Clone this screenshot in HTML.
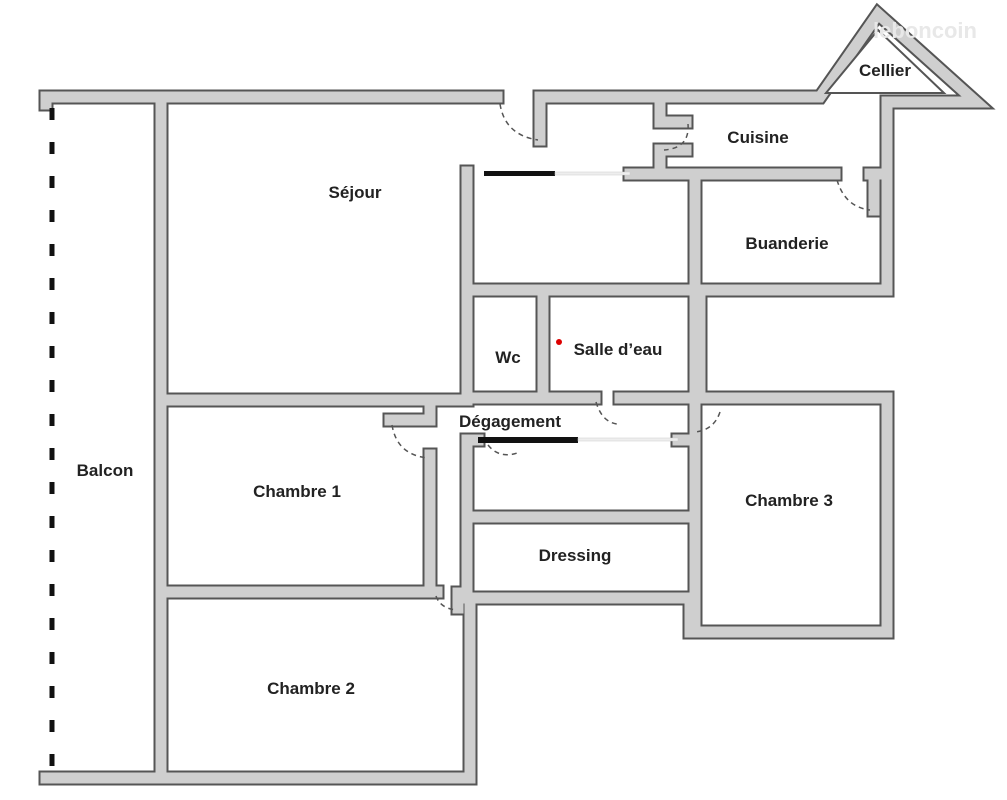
<!DOCTYPE html>
<html><head><meta charset="utf-8"><style>
html,body{margin:0;padding:0;background:#fff;width:1007px;height:800px;overflow:hidden}
svg{display:block}
text{font-family:"Liberation Sans",sans-serif;font-weight:bold;font-size:17px;fill:#222;text-anchor:middle}
</style></head><body>
<svg width="1007" height="800" viewBox="0 0 1007 800">
<defs>
<g id="walls">
 <polyline points="46,97 497,97"/>
 <polyline points="540,140 540,97 820,97 878,14 976,102 887,102 887,290 700,290 700,398 887,398 887,632 690,632 690,598 470,598 470,778 46,778"/>
 <polyline points="46,97 46,104"/>
 <polyline points="161,104 161,772"/>
 <polyline points="161,400 467,400 467,172"/>
 <polyline points="630,174 835,174"/>
 <polyline points="870,174 880,174"/>
 <polyline points="660,104 660,122 686,122"/>
 <polyline points="686,150 660,150 660,174"/>
 <polyline points="695,174 695,398"/>
 <polyline points="467,290 887,290"/>
 <polyline points="543,290 543,398"/>
 <polyline points="467,398 595,398"/>
 <polyline points="620,398 700,398"/>
 <polyline points="161,592 437,592"/>
 <polyline points="430,455 430,592"/>
 <polyline points="390,420 430,420 430,405"/>
 <polyline points="467,440 467,598"/>
 <polyline points="467,440 478,440"/>
 <polyline points="678,440 695,440 695,598"/>
 <polyline points="467,517 695,517"/>
 <polyline points="695,405 695,630"/>
 <polyline points="458,593 458,608"/>
 <polyline points="874,180 874,210"/>
</g>
</defs>
<g fill="none" stroke="#555" stroke-width="15" stroke-linejoin="miter" stroke-linecap="square"><use href="#walls"/></g>
<g fill="none" stroke="#cfcfcf" stroke-width="11" stroke-linejoin="miter" stroke-linecap="square"><use href="#walls"/></g>
<polygon points="826,93 878,30 944,93" fill="#fff" stroke="#555" stroke-width="2"/>
<!-- sliding/black bars -->
<rect x="484" y="171" width="71" height="5" fill="#111"/>
<rect x="555" y="172" width="75" height="3" fill="#eee" stroke="#ccc" stroke-width="0.5"/>
<rect x="478" y="437" width="100" height="6" fill="#111"/>
<rect x="578" y="438" width="100" height="3" fill="#eee" stroke="#ccc" stroke-width="0.5"/>
<!-- balcony dashes -->
<line x1="52" y1="108" x2="52" y2="775" stroke="#111" stroke-width="5" stroke-dasharray="12,22"/>
<!-- door swings -->
<g fill="none" stroke="#555" stroke-width="1.5" stroke-dasharray="5,4">
 <path d="M500,104 Q505,135 538,140"/>
 <path d="M688,124 Q690,148 664,150"/>
 <path d="M837,180 Q845,207 870,210"/>
 <path d="M392,425 Q397,455 428,458"/>
 <path d="M596,402 Q602,422 617,424"/>
 <path d="M720,412 Q714,430 695,432"/>
 <path d="M436,596 Q440,608 456,610"/>
 <path d="M488,445 Q500,460 520,452"/>
</g>
<circle cx="559" cy="342" r="3" fill="#d00"/>
<text x="355" y="198">Séjour</text>
<text x="758" y="143">Cuisine</text>
<text x="787" y="249">Buanderie</text>
<text x="885" y="76">Cellier</text>
<text x="508" y="363">Wc</text>
<text x="618" y="355">Salle d’eau</text>
<text x="510" y="427">Dégagement</text>
<text x="105" y="476">Balcon</text>
<text x="297" y="497">Chambre 1</text>
<text x="789" y="506">Chambre 3</text>
<text x="575" y="561">Dressing</text>
<text x="311" y="694">Chambre 2</text>
<text x="925" y="38" style="font-size:22px;fill:#e8e8e8;font-weight:bold">leboncoin</text>
</svg>
</body></html>
